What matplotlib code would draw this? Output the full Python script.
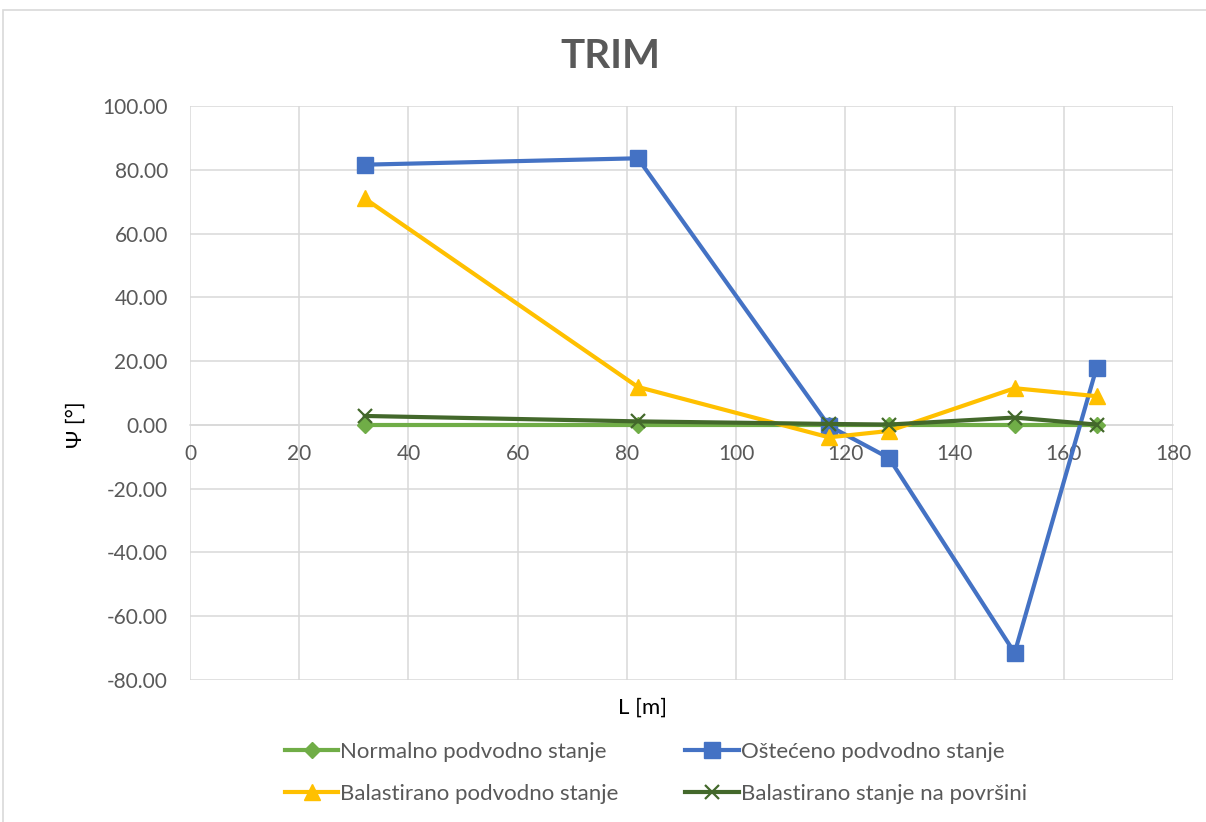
import matplotlib.pyplot as plt
from matplotlib.patches import Rectangle
from matplotlib.ticker import FormatStrFormatter

# podaci (L [m], Psi [deg])
L = [32, 82, 117, 128, 151, 166]
normalno = [0.0, 0.0, 0.0, 0.0, 0.0, 0.0]
osteceno = [81.6, 83.6, -0.3, -10.4, -71.5, 17.9]
balast_podvodno = [71.0, 11.9, -3.9, -1.9, 11.5, 9.0]
balast_povrsina = [2.8, 1.1, 0.3, 0.1, 2.3, 0.1]

plt.rcParams['font.family'] = ['Lato', 'DejaVu Sans']
txt_gray = '#595959'

fig = plt.figure(figsize=(12.06, 8.22), dpi=100)
ax = fig.add_axes([190 / 1206, 1 - 680 / 822, 983 / 1206, 574 / 822])

# okvir oko cijelog grafa
fig.patches.append(Rectangle((3 / 1206, -0.01), 1.0, 1 - 10 / 822 + 0.01, transform=fig.transFigure,
                             fill=False, edgecolor='#d9d9d9', linewidth=1.2))

lw = 3.0
l1, = ax.plot(L, normalno, marker='D', color='#70AD47', linewidth=lw, markersize=8, label='Normalno podvodno stanje', zorder=3)
l2, = ax.plot(L, osteceno, marker='s', color='#4472C4', linewidth=lw, markersize=11, label='Oštećeno podvodno stanje', zorder=4)
l3, = ax.plot(L, balast_podvodno, marker='^', color='#FFC000', linewidth=lw, markersize=11, label='Balastirano podvodno stanje', zorder=5)
l4, = ax.plot(L, balast_povrsina, marker='x', color='#43682B', linewidth=lw, markersize=10, markeredgewidth=1.6,
              label='Balastirano stanje na površini', zorder=6)

ax.set_xlim(0, 180)
ax.set_ylim(-80, 100)
ax.set_xticks(range(0, 181, 20))
ax.set_yticks(range(-80, 101, 20))
ax.yaxis.set_major_formatter(FormatStrFormatter('%.2f'))
ax.grid(True, color='#d9d9d9', linewidth=1.1)
ax.set_axisbelow(True)

for s in ['top', 'right', 'left']:
    ax.spines[s].set_visible(False)
ax.spines['bottom'].set_position(('data', 0))
ax.spines['bottom'].set_color('#d9d9d9')
ax.spines['bottom'].set_linewidth(1.1)
ax.tick_params(length=0, labelsize=15, labelcolor=txt_gray)
ax.tick_params(axis='x', pad=14)
ax.tick_params(axis='y', pad=16)

fig.text(610 / 1206, 1 - 57 / 822, 'TRIM', ha='center', va='center', fontsize=29,
         fontweight='bold', color=txt_gray)
fig.text(76 / 1206, 1 - 425 / 822, 'Ψ [°]', ha='center', va='center', rotation=90, fontsize=16)
fig.text(643 / 1206, 1 - 708 / 822, 'L [m]', ha='center', va='center', fontsize=16)

# redoslijed kao u Excelu (po redovima)
fig.legend([l1, l3, l2, l4], [l.get_label() for l in [l1, l3, l2, l4]],
           loc='center', bbox_to_anchor=(656 / 1206, 1 - 773 / 822), ncol=2, frameon=False,
           fontsize=16, labelcolor=txt_gray, handlelength=2.4, columnspacing=3.0,
           handletextpad=0.1, labelspacing=1.0)

fig.savefig('out.png', dpi=100)
